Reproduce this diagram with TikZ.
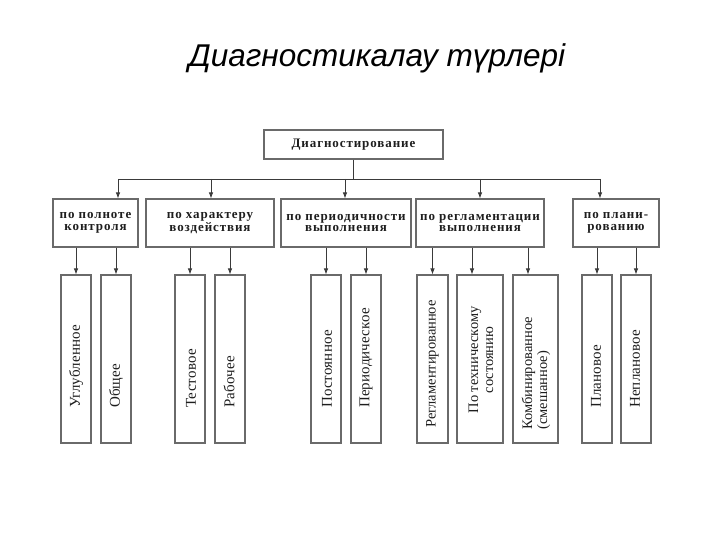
\documentclass[tikz,border=0pt]{standalone}
\usepackage{fontspec}
\setmainfont{Liberation Serif}
\newfontfamily\titlefont{Liberation Sans}
\usetikzlibrary{arrows.meta}
\definecolor{boxline}{HTML}{6A6A6A}
\definecolor{conn}{HTML}{3A3A3A}
\definecolor{txt}{HTML}{1E1E1E}
\tikzset{
  box/.style={draw=boxline, line width=1.1pt, inner sep=0pt, rectangle},
  hdr/.style={align=center, text=txt, font=\fontsize{13}{11.5}\selectfont\bfseries\addfontfeatures{LetterSpace=7}},
  leaf/.style={rotate=90, anchor=west, inner sep=0pt, text=txt, font=\fontsize{15}{15}\selectfont\addfontfeatures{LetterSpace=1}},
  conline/.style={draw=conn, line width=0.8pt},
  arr/.style={conline, -{Latex[length=6pt,width=4.5pt]}}
}
\begin{document}
\begin{tikzpicture}[x=1pt,y=-1pt]
\useasboundingbox (0,0) rectangle (720,540);
\node[text=black, font=\titlefont\itshape\fontsize{31.5}{33}\selectfont, anchor=base] (title) at (377,67) {Диагностикалау түрлері};
% top
\node[box, minimum width=179pt, minimum height=29pt, hdr] (top) at (353.5,144.5) {Диагностирование};
% level 2
\node[box, minimum width=85pt, minimum height=48pt, hdr] (b1) at (95.5,223) {по полноте\\контроля};
\node[box, minimum width=128pt, minimum height=48pt, hdr] (b2) at (210,223) {по характеру\\воздействия};
\node[box, minimum width=130pt, minimum height=48pt, hdr] (b3) at (346,223) {по периодичности\\выполнения};
\node[box, minimum width=128pt, minimum height=48pt, hdr] (b4) at (480,223) {по регламентации\\выполнения};
\node[box, minimum width=86pt, minimum height=48pt, hdr] (b5) at (616,223) {по плани-\\рованию};
% leaves
\node[box, minimum width=30pt, minimum height=168pt] (l1) at (76,359) {};
\node[box, minimum width=30pt, minimum height=168pt] (l2) at (116,359) {};
\node[box, minimum width=30pt, minimum height=168pt] (l3) at (190,359) {};
\node[box, minimum width=30pt, minimum height=168pt] (l4) at (230,359) {};
\node[box, minimum width=30pt, minimum height=168pt] (l5) at (326,359) {};
\node[box, minimum width=30pt, minimum height=168pt] (l6) at (366,359) {};
\node[box, minimum width=31pt, minimum height=168pt] (l7) at (432.5,359) {};
\node[box, minimum width=46pt, minimum height=168pt] (l8) at (480,359) {};
\node[box, minimum width=45pt, minimum height=168pt] (l9) at (535.5,359) {};
\node[box, minimum width=30pt, minimum height=168pt] (l10) at (597,359) {};
\node[box, minimum width=30pt, minimum height=168pt] (l11) at (636,359) {};
% leaf texts
\node[leaf] (t1) at (76,408) {Углубленное};
\node[leaf] (t2) at (116,408) {Общее};
\node[leaf] (t3) at (191,408) {Тестовое};
\node[leaf] (t4) at (229,408) {Рабочее};
\node[leaf] (t5) at (327,408) {Постоянное};
\node[leaf] (t6) at (366,408) {Периодическое};
\node[leaf, font=\fontsize{14.5}{15}\selectfont] (t7) at (432.5,428) {Регламентированное};
\node[leaf, anchor=center, align=center, font=\fontsize{14.5}{15}\selectfont] (t8) at (481,360) {По техническому\\состоянию};
\node[leaf, align=left, font=\fontsize{14.5}{15}\selectfont] (t9) at (536,430) {Комбинированное\\(смешанное)};
\node[leaf] (t10) at (596,408) {Плановое};
\node[leaf] (t11) at (635,408) {Неплановое};
% bus
\coordinate (a1) at (118,179);
\coordinate (a2) at (211,179);
\coordinate (a3) at (345,179);
\coordinate (a4) at (480,179);
\coordinate (a5) at (600,179);
\draw[conline] (top.south) -- (top.south |- a1);
\draw[conline] (a1) -- (a5);
\draw[arr] (a1) -- (a1 |- b1.north);
\draw[arr] (a2) -- (a2 |- b2.north);
\draw[arr] (a3) -- (a3 |- b3.north);
\draw[arr] (a4) -- (a4 |- b4.north);
\draw[arr] (a5) -- (a5 |- b5.north);
% level 2 to leaves
\draw[arr] (l1.north |- b1.south) -- (l1.north);
\draw[arr] (l2.north |- b1.south) -- (l2.north);
\draw[arr] (l3.north |- b2.south) -- (l3.north);
\draw[arr] (l4.north |- b2.south) -- (l4.north);
\draw[arr] (l5.north |- b3.south) -- (l5.north);
\draw[arr] (l6.north |- b3.south) -- (l6.north);
\draw[arr] (l7.north |- b4.south) -- (l7.north);
\draw[arr] ([xshift=-8pt]l8.north |- b4.south) -- ([xshift=-8pt]l8.north);
\draw[arr] ([xshift=-7.5pt]l9.north |- b4.south) -- ([xshift=-7.5pt]l9.north);
\draw[arr] (l10.north |- b5.south) -- (l10.north);
\draw[arr] (l11.north |- b5.south) -- (l11.north);
\end{tikzpicture}
\end{document}
